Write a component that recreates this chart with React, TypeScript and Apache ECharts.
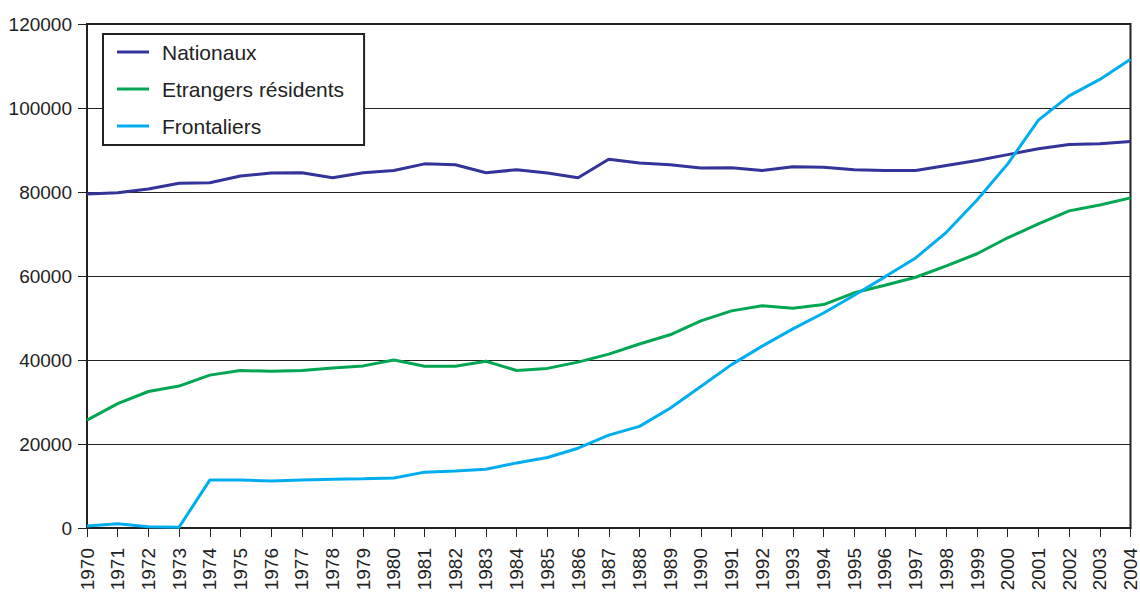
import React, { useEffect, useRef } from "react";
import * as echarts from "echarts";

const years = [
  "1970","1971","1972","1973","1974","1975","1976","1977","1978","1979",
  "1980","1981","1982","1983","1984","1985","1986","1987","1988","1989",
  "1990","1991","1992","1993","1994","1995","1996","1997","1998","1999",
  "2000","2001","2002","2003","2004",
];

const nationaux = [
  79500, 79800, 80700, 82100, 82200, 83800, 84500, 84600, 83400, 84600,
  85100, 86700, 86500, 84600, 85300, 84500, 83400, 87800, 86900, 86500,
  85700, 85800, 85100, 86000, 85900, 85300, 85100, 85100, 86300, 87500,
  88900, 90300, 91300, 91500, 92000,
];

const etrangers = [
  25700, 29600, 32500, 33800, 36400, 37500, 37300, 37500, 38100, 38600,
  40000, 38500, 38500, 39700, 37500, 38000, 39500, 41400, 43800, 46000,
  49300, 51700, 52900, 52300, 53200, 56000, 57800, 59700, 62400, 65300,
  69100, 72400, 75500, 76900, 78600,
];

const frontaliers = [
  500, 1000, 300, 200, 11400, 11400, 11200, 11400, 11600, 11700,
  11900, 13300, 13600, 14000, 15500, 16800, 19000, 22100, 24200, 28500,
  33700, 38900, 43300, 47400, 51200, 55400, 59800, 64300, 70400, 78100,
  86700, 97100, 102900, 106800, 111600,
];

const seriesNames = ["Nationaux", "Etrangers résidents", "Frontaliers"];
const colors = ["#333399", "#00a651", "#00aeef"];

export default function App() {
  const ref = useRef<HTMLDivElement>(null);
  useEffect(() => {
    if (!ref.current) return;
    const chart = echarts.init(ref.current, undefined, { renderer: "svg" });
    const font = "'Liberation Sans', Arial, sans-serif";
    const data = [nationaux, etrangers, frontaliers];
    chart.setOption({
      animation: false,
      textStyle: { fontFamily: font },
      grid: {
        left: 87,
        right: 8,
        top: 24,
        bottom: 71,
        show: true,
        borderColor: "#222",
        borderWidth: 2,
        containLabel: false,
      },
      legend: {
        orient: "vertical",
        left: 103,
        top: 34,
        data: seriesNames,
        icon: "rect",
        itemWidth: 32,
        itemHeight: 3,
        itemGap: 15,
        borderColor: "#222",
        borderWidth: 2,
        backgroundColor: "#fff",
        padding: [7, 20, 8, 14],
        textStyle: {
          fontFamily: font,
          fontSize: 21,
          color: "#222",
          lineHeight: 22,
          padding: [0, 0, 0, 8],
        },
      },
      xAxis: {
        type: "category",
        data: years,
        boundaryGap: false,
        axisLine: { lineStyle: { color: "#222", width: 2 } },
        axisTick: { show: true, length: 9, lineStyle: { color: "#222" }, alignWithLabel: true },
        axisLabel: {
          rotate: 90,
          interval: 0,
          fontSize: 19,
          color: "#222",
          fontFamily: font,
          margin: 20,
        },
      },
      yAxis: {
        type: "value",
        min: 0,
        max: 120000,
        interval: 20000,
        axisLine: { show: true, lineStyle: { color: "#222", width: 2 } },
        axisTick: { show: true, length: 9, lineStyle: { color: "#222" } },
        axisLabel: {
          fontSize: 19,
          color: "#222",
          fontFamily: font,
          margin: 15,
          formatter: (v: number) => String(v),
        },
        splitLine: { show: true, lineStyle: { color: "#222", width: 1 } },
      },
      series: seriesNames.map((name, i) => ({
        name,
        type: "line",
        data: data[i],
        symbol: "none",
        lineStyle: { color: colors[i], width: 3 },
        itemStyle: { color: colors[i] },
      })),
    });
    return () => chart.dispose();
  }, []);
  return <div ref={ref} style={{ width: 1140, height: 599, position: "absolute", left: 0, top: 0 }} />;
}
